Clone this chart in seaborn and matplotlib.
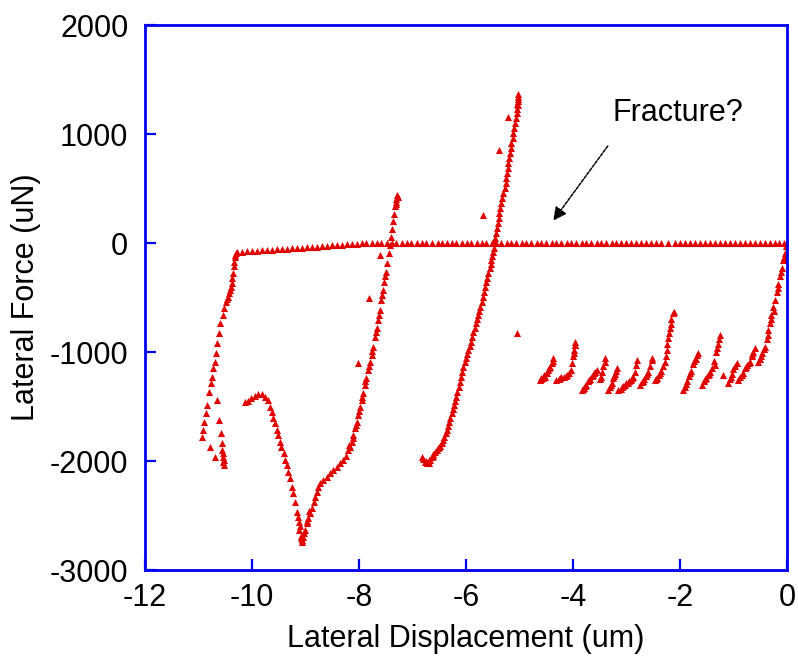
import matplotlib
matplotlib.use("Agg")
import matplotlib.pyplot as plt
import seaborn as sns
import pandas as pd

# ---------------- data ----------------
# near-zero drift line
zero_x = [-10.28, -10.19, -10.10, -10.00, -9.91, -9.82, -9.72, -9.63, -9.54, -9.44,
          -9.35, -9.26, -9.16, -9.07, -8.98, -8.88, -8.79, -8.70, -8.60, -8.51,
          -8.42, -8.32, -8.23, -8.14, -8.04, -7.95, -7.86, -7.76, -7.67, -7.58,
          -7.48, -7.39, -7.30, -7.20, -7.11, -7.02, -6.92, -6.83, -6.75, -6.63,
          -6.53, -6.45, -6.36, -6.27, -6.18, -6.08, -5.99, -5.90, -5.80, -5.71,
          -5.62, -5.52, -5.43, -5.34, -5.24, -5.15, -5.06, -4.96, -4.87, -4.78,
          -4.68, -4.59, -4.50, -4.40, -4.31, -4.22, -4.12, -4.03, -3.94, -3.84,
          -3.75, -3.66, -3.56, -3.47, -3.38, -3.28, -3.19, -3.10, -3.00, -2.91,
          -2.82, -2.72, -2.63, -2.54, -2.44, -2.35, -2.22, -2.10, -2.00, -1.91,
          -1.82, -1.72, -1.63, -1.54, -1.44, -1.35, -1.26, -1.16, -1.07, -0.98,
          -0.88, -0.79, -0.70, -0.60, -0.51, -0.42, -0.32, -0.23, -0.14, -0.05]
zero_y = [-80, -78, -75, -72, -70, -66, -64, -61, -58, -55,
          -52, -49, -46, -43, -40, -37, -34, -30, -26, -22,
          -18, -15, -12, -8, -5, -2, 0, 0, 0, 0,
          0, 0, 0, 0, 0, 0, 0, 0, 0, 0,
          0, 0, 0, 0, 0, 0, 0, 0, 0, 0,
          0, 0, 0, 0, 0, 0, 0, 0, 0, 0,
          0, 0, 0, 0, 0, 0, 0, 0, 0, 0,
          0, 0, 0, 0, 0, 0, 0, 0, 0, 0,
          0, 0, 0, 0, 0, 0, 0, 0, 0, 0,
          0, 0, 0, 0, 0, 0, 0, 0, 0, 0,
          0, 0, 0, 0, 0, 0, 0, 0, 0, 0]

# left drop from the end of the drift line
drop_x = [-10.30, -10.31, -10.32, -10.33, -10.34, -10.35, -10.37, -10.38, -10.40, -10.41,
          -10.43, -10.44, -10.47, -10.49, -10.52, -10.55,
          -10.59, -10.61, -10.65, -10.67, -10.70, -10.72, -10.75, -10.77, -10.80, -10.84,
          -10.86, -10.90, -10.92, -10.94, -10.79, -10.69,
          -10.66, -10.61, -10.585, -10.57, -10.555, -10.55, -10.54, -10.52, -10.53, -10.54]
drop_y = [-90, -110, -130, -171, -210, -278, -320, -370, -400, -431,
          -460, -492, -515, -538, -599, -661,
          -737, -829, -920, -1012, -1089, -1150, -1227, -1287, -1364, -1486,
          -1563, -1639, -1716, -1777, -1869, -1960,
          -1440, -1624, -1746, -1838, -1899, -1960, -2006, -2037, -1990, -1930]

# V-shaped loading branch
v_x = [-10.13, -10.07, -10.01, -9.94, -9.88, -9.82, -9.76, -9.70, -9.66, -9.63,
       -9.60, -9.57, -9.54, -9.51, -9.48, -9.45, -9.41, -9.38, -9.35, -9.32,
       -9.29, -9.26, -9.23, -9.20, -9.16, -9.13, -9.12, -9.09, -9.07, -9.08,
       -9.04, -9.01, -8.98, -8.95, -8.92, -8.88, -8.85, -8.82, -8.79, -8.76,
       -8.73, -8.67, -8.60, -8.54, -8.48, -8.42, -8.36, -8.29, -8.24, -8.20,
       -8.17, -8.14, -8.11, -8.07, -8.04, -8.01, -7.98, -7.95, -7.92, -7.89,
       -7.86, -7.83, -7.79, -7.76, -7.73, -7.70, -7.67, -7.64, -7.61, -7.58,
       -7.55, -7.53, -7.50, -7.47, -7.44, -7.42, -7.40, -7.38, -7.36, -7.34,
       -7.32, -7.30, -7.29, -7.28, -7.30, -7.31,
       -9.14, -9.11, -9.06, -9.02, -8.97, -8.93, -8.18, -8.12, -8.06, -8.00,
       -7.94, -7.88, -7.81, -7.75, -7.69, -7.63, -7.57, -7.51]
v_y = [-1456, -1447, -1425, -1404, -1388, -1388, -1410, -1440, -1502, -1547,
       -1608, -1654, -1716, -1761, -1823, -1869, -1930, -1991, -2037, -2098,
       -2159, -2236, -2296, -2373, -2465, -2557, -2633, -2709, -2740, -2690,
       -2694, -2633, -2572, -2526, -2480, -2434, -2373, -2327, -2281, -2236,
       -2205, -2174, -2144, -2113, -2083, -2052, -2021, -1991, -1954, -1899,
       -1869, -1823, -1761, -1700, -1639, -1578, -1502, -1440, -1379, -1303,
       -1241, -1165, -1089, -1028, -951, -860, -783, -706, -615, -523,
       -431, -355, -263, -187, -95, -18, 58, 130, 200, 270,
       340, 400, 440, 420, 380, 360,
       -2510, -2595, -2720, -2660, -2550, -2460, -1850, -1790, -1670, -1540,
       -1410, -1270, -1130, -990, -820, -660, -480, -305]

# second loading branch
d_x = [-6.83, -6.80, -6.77, -6.73, -6.70, -6.67, -6.64, -6.61, -6.58, -6.55,
       -6.52, -6.48, -6.45, -6.43, -6.41, -6.38, -6.36, -6.33, -6.31, -6.29,
       -6.27, -6.24, -6.22, -6.20, -6.19, -6.16, -6.14, -6.12, -6.10, -6.07,
       -6.05, -6.02, -6.00, -5.98, -5.96, -5.93, -5.91, -5.88, -5.86, -5.83,
       -5.81, -5.79, -5.77, -5.75, -5.73, -5.70, -5.68, -5.66, -5.64, -5.62,
       -5.60, -5.58, -5.56, -5.54, -5.53, -5.51, -5.50, -5.48, -5.47, -5.45,
       -5.44, -5.42, -5.41, -5.39, -5.38, -5.36, -5.34, -5.32, -5.30, -5.28,
       -5.26, -5.25, -5.24, -5.22, -5.21, -5.19, -5.18, -5.16, -5.15, -5.13,
       -5.12, -5.10, -5.08, -5.07, -5.05, -5.04, -5.03, -5.02, -5.02, -5.02,
       -5.03, -5.04, -6.75, -6.69, -6.62, -6.50]
d_y = [-1960, -1985, -2006, -2015, -2021, -1990, -1960, -1937, -1914, -1899,
       -1884, -1861, -1838, -1808, -1777, -1746, -1716, -1678, -1639, -1601,
       -1563, -1525, -1486, -1448, -1410, -1364, -1318, -1272, -1226, -1180,
       -1135, -1096, -1058, -1020, -982, -943, -905, -859, -813, -775,
       -737, -699, -661, -622, -584, -538, -492, -446, -401, -362,
       -324, -278, -232, -194, -156, -118, -80, -41, -3, 43,
       89, 135, 180, 226, 272, 318, 364, 410, 456, 502,
       547, 593, 639, 685, 731, 777, 823, 869, 915, 960,
       1006, 1052, 1098, 1144, 1190, 1228, 1266, 1304, 1342, 1370,
       1320, 1280, -2000, -1995, -1950, -1875]

# isolated points
iso_x = [-7.61, -7.81, -8.01, -5.21, -5.38, -5.68, -5.05, -1.19]
iso_y = [-110, -507, -1098, 1153, 853, 257, -829, -1211]

# stick-slip (sawtooth) branch
saw_x = [-4.62, -4.59, -4.56, -4.52, -4.49, -4.46, -4.43, -4.40, -4.38, -4.37,
         -4.31, -4.27, -4.22, -4.17, -4.12, -4.08, -4.04, -4.02, -4.00, -3.98, -3.96, -3.97,
         -3.84, -3.80, -3.76, -3.72, -3.68, -3.64, -3.60, -3.56,
         -3.50, -3.47, -3.45, -3.43, -3.41, -3.40,
         -3.34, -3.31, -3.28, -3.25, -3.22, -3.19, -3.18,
         -3.15, -3.11, -3.07, -3.03, -3.00, -2.96, -2.92, -2.88, -2.84, -2.82, -2.81,
         -2.75, -2.71, -2.67, -2.63, -2.59, -2.56, -2.53, -2.52,
         -2.47, -2.43, -2.39, -2.35, -2.31, -2.28, -2.25, -2.22, -2.19, -2.16, -2.13, -2.12,
         -1.94, -1.91, -1.87, -1.83, -1.79, -1.75, -1.71, -1.68, -1.66,
         -1.59, -1.55, -1.51, -1.47, -1.43, -1.40, -1.36, -1.32, -1.29, -1.27, -1.25,
         -1.10, -1.07, -1.03, -1.00, -0.97, -0.94,
         -0.91, -0.87, -0.83, -0.79, -0.75, -0.71, -0.69, -0.66, -0.63, -0.60,
         -0.54, -0.50, -0.46, -0.43, -0.41, -0.38, -0.35, -0.32, -0.29, -0.26,
         -0.22, -0.19, -0.16, -0.13, -0.10, -0.07, -0.04, -0.02, 0.0, -0.01,
         -4.60, -4.54, -4.44, -4.25, -4.14, -3.99, -3.97, -3.82, -3.78, -3.70,
         -3.62, -3.58, -3.29, -3.23, -3.09, -2.98, -2.90, -2.69, -2.61, -2.45,
         -2.37, -2.26, -2.24, -2.20, -2.17, -1.89, -1.81, -1.73, -1.53, -1.45,
         -1.34, -1.30, -1.05, -0.85, -0.77, -0.65, -0.48, -0.36, -0.30, -0.24,
         -0.17, -0.11, -0.05]
saw_y = [-1257, -1250, -1235, -1227, -1195, -1165, -1135, -1104, -1080, -1058,
         -1257, -1245, -1230, -1225, -1211, -1190, -1165, -1100, -1040, -980, -905, -940,
         -1349, -1330, -1300, -1270, -1245, -1220, -1195, -1165,
         -1250, -1227, -1180, -1130, -1090, -1058,
         -1349, -1320, -1280, -1240, -1200, -1170, -1150,
         -1349, -1335, -1315, -1300, -1287, -1270, -1255, -1230, -1180, -1120, -1070,
         -1300, -1275, -1250, -1220, -1180, -1130, -1073, -1058,
         -1257, -1240, -1210, -1170, -1125, -1089, -980, -870, -780, -700, -642, -630,
         -1349, -1320, -1270, -1220, -1170, -1110, -1060, -1030, -1012,
         -1303, -1270, -1235, -1210, -1185, -1150, -1080, -1000, -930, -880, -844,
         -1287, -1250, -1200, -1160, -1130, -1104,
         -1257, -1225, -1190, -1150, -1120, -1100, -1089, -1040, -1000, -966,
         -1089, -1060, -1010, -970, -951, -880, -800, -730, -660, -590,
         -523, -450, -380, -300, -230, -160, -90, -30, 0, -150,
         -1240, -1215, -1150, -1240, -1220, -1010, -940, -1340, -1315, -1255,
         -1208, -1180, -1300, -1220, -1325, -1280, -1242, -1262, -1200, -1250,
         -1190, -1040, -925, -825, -740, -1295, -1195, -1085, -1250, -1198,
         -1115, -965, -1225, -1208, -1135, -1020, -1035, -840, -695, -625,
         -415, -265, -125]

x_ticks = [-12, -10, -8, -6, -4, -2, 0]
y_ticks = [-3000, -2000, -1000, 0, 1000, 2000]
x_label = "Lateral Displacement (um)"
y_label = "Lateral Force (uN)"
note_text = "Fracture?"

# ---------------- plotting ----------------
sns.set_style("white")
plt.rcParams['font.family'] = ['Liberation Sans', 'DejaVu Sans']
plt.rcParams['text.color'] = 'black'
plt.rcParams['axes.labelcolor'] = 'black'

df = pd.DataFrame({
    "x": zero_x + drop_x + v_x + d_x + iso_x + saw_x,
    "y": zero_y + drop_y + v_y + d_y + iso_y + saw_y,
})

fig = plt.figure(figsize=(7.98, 6.66), dpi=100)
ax = fig.add_axes([0.1817, 0.1441, 0.8045, 0.8183])

sns.scatterplot(data=df, x="x", y="y", ax=ax, marker="^", s=26,
                color="#e00000", linewidth=0, legend=False)

blue = "#0000f0"
for sp in ax.spines.values():
    sp.set_color(blue)
    sp.set_linewidth(2.0)
    sp.set_visible(True)

ax.set_xlim(-12, 0)
ax.set_ylim(-3000, 2000)
ax.set_xticks(x_ticks)
ax.set_yticks(y_ticks)
ax.set_xticklabels([str(v) for v in x_ticks])
ax.set_yticklabels([str(v) for v in y_ticks])
ax.tick_params(axis="both", direction="in", length=8, width=1.6, color=blue,
               labelsize=22, labelcolor="black", left=True, bottom=True)
ax.tick_params(axis="y", pad=12)
ax.tick_params(axis="x", pad=9)
ax.tick_params(top=False, right=False)

ax.set_xlabel(x_label, fontsize=22, labelpad=8, color="black")
ax.set_ylabel(y_label, fontsize=22, labelpad=6, color="black")

ax.text(-3.27, 1193, note_text, fontsize=22, ha="left", va="center", color="black")
ax.annotate("", xy=(-4.37, 205), xytext=(-3.35, 890),
            arrowprops=dict(arrowstyle="-|>", color="black", lw=1.1,
                            linestyle=(0, (2, 1)), mutation_scale=20,
                            shrinkA=0, shrinkB=0))

fig.savefig("out.png", dpi=100, facecolor="white")
